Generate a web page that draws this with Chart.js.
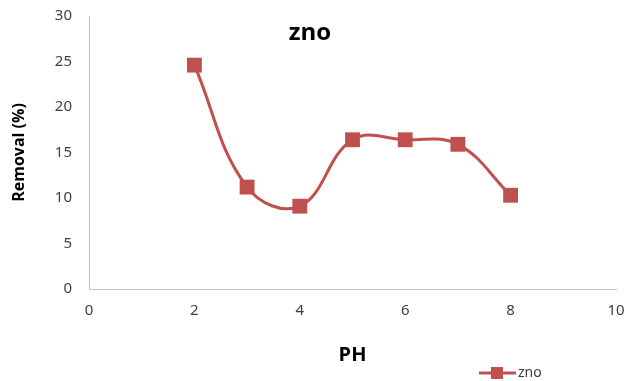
<!DOCTYPE html>
<html>
<head>
<meta charset="utf-8">
<script src="https://cdn.jsdelivr.net/npm/chart.js@4"></script>
<style>
  body { margin: 0; background: #fff; }
  #wrap { width: 629px; height: 381px; }
</style>
</head>
<body>
<div id="wrap"><canvas id="chart" width="629" height="381"></canvas></div>
<script>
// values
const phValues = [2, 3, 4, 5, 6, 7, 8];
const removal = [24.6, 11.2, 9.1, 16.4, 16.4, 15.9, 10.3];
const xTicks = [0, 2, 4, 6, 8, 10];
const yTicks = [0, 5, 10, 15, 20, 25, 30];
const seriesName = 'zno';
const red = '#C0504D';

// title inside the plot + custom legend (line with square)
const overlay = {
    id: 'overlay',
    afterDraw(chart) {
        const ctx = chart.ctx;
        ctx.save();
        ctx.fillStyle = '#000';
        ctx.font = 'bold 24px "Open Sans", sans-serif';
        ctx.textAlign = 'center';
        ctx.textBaseline = 'middle';
        ctx.fillText(seriesName, 310, 33);

        // legend
        ctx.strokeStyle = red;
        ctx.lineWidth = 3;
        ctx.beginPath();
        ctx.moveTo(479, 373);
        ctx.lineTo(516, 373);
        ctx.stroke();
        ctx.fillStyle = red;
        ctx.fillRect(491, 367, 12, 12);
        ctx.fillStyle = '#404040';
        ctx.font = '14px "Noto Sans", sans-serif';
        ctx.textAlign = 'left';
        ctx.fillText(seriesName, 518, 373);
        ctx.restore();
    }
};

new Chart(document.getElementById('chart'), {
    type: 'line',
    data: {
        datasets: [{
            label: seriesName,
            data: phValues.map((x, i) => ({ x: x, y: removal[i] })),
            borderColor: red,
            backgroundColor: red,
            borderWidth: 3,
            pointStyle: 'rect',
            pointRadius: 10.5,
            pointHoverRadius: 10.5,
            pointBorderWidth: 0,
            tension: 0.4
        }]
    },
    options: {
        responsive: false,
        animation: false,
        layout: { autoPadding: false, padding: { top: 16, right: 13, left: 0, bottom: 0 } },
        plugins: {
            legend: { display: false },
            tooltip: { enabled: false }
        },
        scales: {
            x: {
                type: 'linear',
                min: 0,
                max: 10,
                afterBuildTicks: s => { s.ticks = xTicks.map(v => ({ value: v })); },
                afterFit: s => { s.height = 92; s.paddingLeft = 0; s.paddingRight = 0; },
                grid: { display: false, drawTicks: false },
                border: { color: '#BFBFBF', width: 1 },
                ticks: {
                    color: '#404040',
                    padding: 13,
                    font: { family: '"Noto Sans"', size: 15 }
                },
                title: {
                    display: true,
                    text: 'PH',
                    color: '#000',
                    font: { family: '"Open Sans"', size: 20, weight: 'bold' },
                    padding: { top: 0, bottom: 14 }
                }
            },
            y: {
                min: 0,
                max: 30,
                afterBuildTicks: s => { s.ticks = yTicks.map(v => ({ value: v })); },
                afterFit: s => { s.width = 89; s.paddingTop = 0; s.paddingBottom = 0; },
                grid: { display: false, drawTicks: false },
                border: { color: '#BFBFBF', width: 1 },
                ticks: {
                    color: '#404040',
                    padding: 17,
                    font: { family: '"Noto Sans"', size: 15 }
                },
                title: {
                    display: true,
                    text: 'Removal (%)',
                    color: '#000',
                    font: { family: '"Open Sans"', size: 16, weight: 'bold' },
                    padding: { top: 10, bottom: 0 }
                }
            }
        }
    },
    plugins: [overlay]
});
</script>
</body>
</html>
